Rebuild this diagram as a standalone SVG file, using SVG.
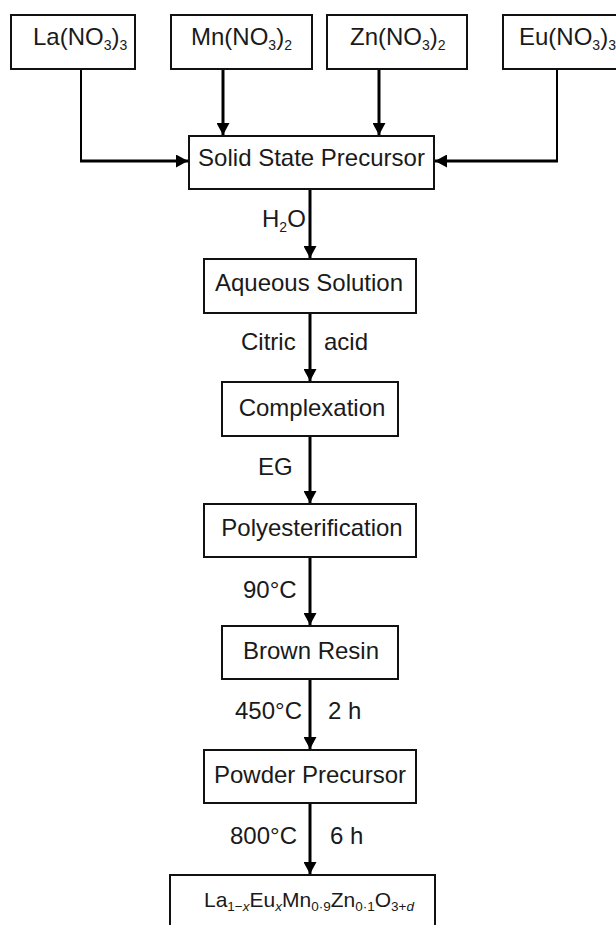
<svg xmlns="http://www.w3.org/2000/svg" width="616" height="925" viewBox="0 0 616 925">
<style>
  .box { fill: #ffffff; stroke: #111111; stroke-width: 2; }
  .t { font-family: "Liberation Sans", Arial, sans-serif; font-size: 24px; fill: #1a1a1a; }
  .c { text-anchor: middle; }
  .sub { font-size: 14px; }
  .f { font-family: "Liberation Sans", Arial, sans-serif; font-size: 21px; fill: #1a1a1a; }
  .fs { font-size: 13.5px; }
  .conn { fill: none; stroke: #000000; stroke-width: 3; }
  .thin { stroke-width: 2; }
  .i { font-style: italic; }
</style>
<defs>
  <marker id="arr" markerUnits="userSpaceOnUse" markerWidth="13" markerHeight="13" refX="12" refY="6.5" orient="auto">
    <path d="M0,0 L12,6.5 L0,13 Z" fill="#000000"/>
  </marker>
</defs>
<rect x="0" y="0" width="616" height="925" fill="#ffffff"/>

<g id="connectors">
  <path class="conn thin" d="M81,69 V161"/>
  <path class="conn" d="M80,161 H188" marker-end="url(#arr)"/>
  <path class="conn" d="M223,69 V135" marker-end="url(#arr)"/>
  <path class="conn" d="M379,69 V135" marker-end="url(#arr)"/>
  <path class="conn thin" d="M557,69 V161"/>
  <path class="conn" d="M558,161 H435" marker-end="url(#arr)"/>
  <path class="conn" d="M310,189 V258" marker-end="url(#arr)"/>
  <path class="conn" d="M310,313 V381" marker-end="url(#arr)"/>
  <path class="conn" d="M310,436 V503" marker-end="url(#arr)"/>
  <path class="conn" d="M310,557 V625" marker-end="url(#arr)"/>
  <path class="conn" d="M310,679 V749" marker-end="url(#arr)"/>
  <path class="conn" d="M310,803 V874" marker-end="url(#arr)"/>
</g>

<g id="labels">
  <text class="t" x="262" y="227">H<tspan class="sub" dy="5">2</tspan><tspan dy="-5">O</tspan></text>
  <text class="t" x="241" y="350">Citric</text>
  <text class="t" x="324" y="350">acid</text>
  <text class="t" x="258" y="475">EG</text>
  <text class="t" x="243" y="598">90°C</text>
  <text class="t" x="235" y="719">450°C</text>
  <text class="t" x="328" y="719">2 h</text>
  <text class="t" x="230" y="844">800°C</text>
  <text class="t" x="330" y="844">6 h</text>
</g>

<g id="la">
  <rect class="box" x="11" y="15" width="124" height="54"/>
  <text class="t" x="33" y="45">La(NO<tspan class="sub" dy="5">3</tspan><tspan dy="-5">)</tspan><tspan class="sub" dy="5">3</tspan></text>
</g>
<g id="mn">
  <rect class="box" x="171" y="15" width="141" height="54"/>
  <text class="t" x="191" y="45">Mn(NO<tspan class="sub" dy="5">3</tspan><tspan dy="-5">)</tspan><tspan class="sub" dy="5">2</tspan></text>
</g>
<g id="zn">
  <rect class="box" x="327" y="15" width="140" height="54"/>
  <text class="t" x="350" y="45">Zn(NO<tspan class="sub" dy="5">3</tspan><tspan dy="-5">)</tspan><tspan class="sub" dy="5">2</tspan></text>
</g>
<g id="eu">
  <rect class="box" x="503" y="15" width="130" height="54"/>
  <text class="t" x="519" y="45">Eu(NO<tspan class="sub" dy="5">3</tspan><tspan dy="-5">)</tspan><tspan class="sub" dy="5">3</tspan></text>
</g>

<g id="solid">
  <rect class="box" x="189" y="136" width="245" height="53"/>
  <text class="t c" x="311.5" y="166">Solid State Precursor</text>
</g>
<g id="aqueous">
  <rect class="box" x="204" y="259" width="212" height="54"/>
  <text class="t c" x="309" y="291">Aqueous Solution</text>
</g>
<g id="complexation">
  <rect class="box" x="222" y="382" width="176" height="54"/>
  <text class="t c" x="312" y="416">Complexation</text>
</g>
<g id="poly">
  <rect class="box" x="204" y="504" width="212" height="53"/>
  <text class="t c" x="312" y="536">Polyesterification</text>
</g>
<g id="brown">
  <rect class="box" x="222" y="626" width="176" height="53"/>
  <text class="t c" x="311" y="659">Brown Resin</text>
</g>
<g id="powder">
  <rect class="box" x="204" y="750" width="212" height="53"/>
  <text class="t c" x="310" y="783">Powder Precursor</text>
</g>
<g id="final">
  <rect class="box" x="170" y="875" width="265" height="70"/>
  <text class="f" x="204" y="907">La<tspan class="fs" dy="4">1−<tspan class="i">x</tspan></tspan><tspan dy="-4">Eu</tspan><tspan class="fs i" dy="4">x</tspan><tspan dy="-4">Mn</tspan><tspan class="fs" dy="4">0·9</tspan><tspan dy="-4">Zn</tspan><tspan class="fs" dy="4">0·1</tspan><tspan dy="-4">O</tspan><tspan class="fs" dy="4">3+<tspan class="i">d</tspan></tspan></text>
</g>
</svg>
